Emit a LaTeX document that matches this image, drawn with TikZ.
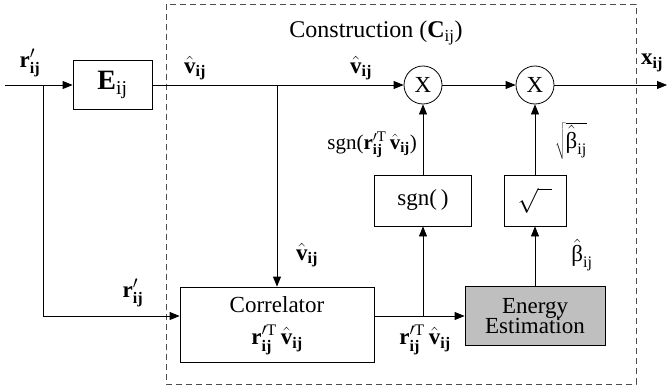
\documentclass[tikz,border=0pt]{standalone}
\usepackage{fontspec}
\setmainfont{Liberation Serif}
\usetikzlibrary{arrows.meta,calc}
\newcommand{\bij}{\mathbf{ij}}
\newcommand{\rij}{\mathbf{r}'_{\bij}}
\newcommand{\vij}{\hat{\mathbf{v}}_{\bij}}
\newcommand{\rTv}{\mathbf{r}'^{\mathrm{T}}_{\bij}\,\hat{\mathbf{v}}_{\bij}}
\newcommand{\bet}{\hat{\textnormal{β}}_{\mathrm{ij}}}
\begin{document}
\begin{tikzpicture}[x=1pt,y=-1pt,
  base/.style={font=\fontsize{23}{25}\selectfont},
  blk/.style={base,draw,line width=0.8pt,inner sep=0pt,align=center},
  mult/.style={base,draw,circle,line width=0.8pt,minimum size=38pt,inner sep=0pt},
  lbl/.style={base,inner sep=0pt},
  arr/.style={line width=0.8pt,-{Triangle[length=10pt,width=8pt]}},
  ln/.style={line width=0.8pt}]
\useasboundingbox (0,0) rectangle (667,388);
\draw[dashed,line width=0.8pt,gray!60!black,dash pattern=on 6pt off 4pt] (166,4) rectangle (636,384);
\node[blk,minimum width=79pt,minimum height=49pt] (E) at (112.5,85) {\fontsize{28}{30}\selectfont$\mathbf{E}_{\mathrm{ij}}$};
\node[blk,minimum width=194pt,minimum height=75pt] (corr) at (277,324.5) {};
\node[lbl] (corrt) at (277,305) {Correlator};
\node[lbl] (corrf) at (277,340) {$\rTv$};
\node[blk,fill=black!25,minimum width=140pt,minimum height=59pt] (en) at (535,316) {Energy\\[-5pt]Estimation};
\node[blk,minimum width=97pt,minimum height=51pt] (sgn) at (423,200.5) {sgn(\,)};
\node[blk,minimum width=62pt,minimum height=51pt] (sq) at (535,200.5) {$\sqrt{\phantom{x}}$};
\node[mult] (m1) at (423,85) {X};
\node[mult] (m2) at (535,85) {X};
\coordinate (in) at (5,85);
\coordinate (br) at (43,85);
\coordinate (out) at (667,85);
\coordinate (br2) at (277,85);
\coordinate (brb) at (43,316);
\coordinate (br3) at (423,316);
\draw[arr] (in) -- (E.west);
\draw[ln] (br) -- (brb);
\draw[arr] (brb) -- (brb -| corr.west);
\draw[arr] (E.east) -- (m1.west);
\draw[arr] (br2) -- (corr.north);
\draw[arr] (m1.east) -- (m2.west);
\draw[arr] (m2.east) -- (out);
\draw[arr] (corr.east |- en.west) -- (en.west);
\draw[arr] (br3) -- (sgn.south);
\draw[arr] (sgn.north) -- (m1.south);
\draw[arr] (en.north) -- (sq.south);
\draw[arr] (sq.north) -- (m2.south);
\node[lbl] (t) at (376,33) {\fontsize{24}{26}\selectfont Construction ($\mathbf{C}_{\mathrm{ij}}$)};
\node[lbl] (l1) at (30,63) {$\rij$};
\node[lbl] (l2) at (195,68) {$\vij$};
\node[lbl] (l3) at (361,68) {$\vij$};
\node[lbl] (l4) at (652,63) {$\mathbf{x}_{\bij}$};
\node[lbl,anchor=east] (l5) at (417,145) {\fontsize{21}{23}\selectfont sgn($\rTv$)};
\node[lbl] (l6) at (571,141) {$\sqrt{\bet}$};
\node[lbl] (l7) at (307,255) {$\vij$};
\node[lbl] (l8) at (133,293) {$\rij$};
\node[lbl] (l9) at (425,340) {$\rTv$};
\node[lbl] (l10) at (582,255) {$\bet$};
\end{tikzpicture}
\end{document}
